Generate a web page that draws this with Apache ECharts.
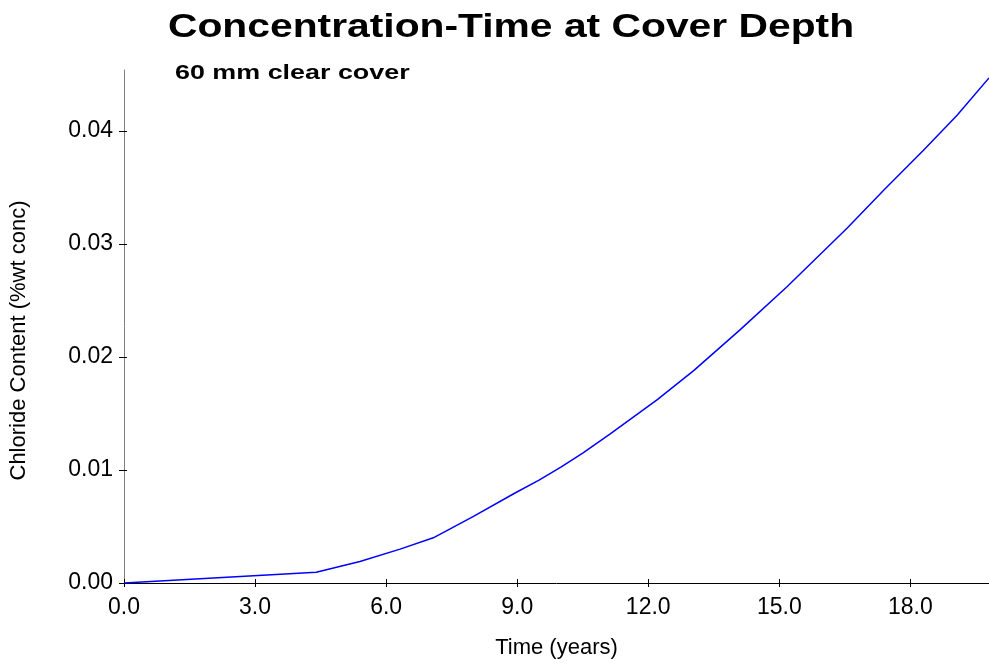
<!DOCTYPE html>
<html><head><meta charset="utf-8">
<script src="https://cdn.jsdelivr.net/npm/echarts@6/dist/echarts.min.js"></script>
<style>html,body{margin:0;padding:0;background:#fff}#c{width:989px;height:665px}</style>
</head><body><div id="c"></div>
<script>
const timeYears = [0, 4.4, 5.4, 6.32, 7.08, 8.0, 8.92, 9.5, 10.0, 10.5, 11.13, 12.2, 13.04, 14.1, 15.17, 16.55, 17.4, 18.3, 19.07, 19.8];
const chloride = [0, 0.00095, 0.0019, 0.003, 0.004, 0.0059, 0.0079, 0.0091, 0.01025, 0.0115, 0.0132, 0.0162, 0.0188, 0.0224, 0.0262, 0.0314, 0.0348, 0.0383, 0.0414, 0.0447];
const xTicks = [0, 3, 6, 9, 12, 15, 18];
const yTicks = [0, 0.01, 0.02, 0.03, 0.04];
const titleText = 'Concentration-Time at Cover Depth';
const subtitleText = '60 mm clear cover';

const chart = echarts.init(document.getElementById('c'));
const F = 'Liberation Sans, Arial, sans-serif';
const xBase = {type: 'value', min: 0, max: 19.8, splitLine: {show: false}};
const yBase = {type: 'value', min: 0, max: 0.0454, splitLine: {show: false}};
chart.setOption({
  animation: false,
  graphic: [
    {type: 'text', x: 511, y: 28, scaleX: 1.2, originX: 0, originY: 0,
     style: {text: titleText, font: 'bold 34px ' + F, fill: '#000', align: 'center', verticalAlign: 'middle'}},
    {type: 'text', x: 175, y: 73, scaleX: 1.28, originX: 0, originY: 0,
     style: {text: subtitleText, font: 'bold 21px ' + F, fill: '#000', align: 'left', verticalAlign: 'middle'}}
  ],
  grid: {left: 124, right: 0, top: 70, bottom: 82, containLabel: false, outerBoundsMode: 'none'},
  xAxis: [
    Object.assign({}, xBase, {
      name: 'Time (years)', nameLocation: 'middle', nameGap: 54,
      nameTextStyle: {fontFamily: F, fontSize: 22, color: '#000'},
      axisLine: {lineStyle: {color: '#000', width: 1}},
      axisTick: {show: true, length: 4, inside: false, customValues: xTicks, lineStyle: {color: '#000'}},
      axisLabel: {customValues: xTicks, fontFamily: F, fontSize: 23, color: '#000', margin: 13,
        formatter: v => v.toFixed(1)}
    }),
    Object.assign({}, xBase, {
      position: 'bottom', offset: 0,
      axisLine: {show: false},
      axisTick: {show: true, length: 4, inside: true, customValues: xTicks, lineStyle: {color: '#000'}},
      axisLabel: {show: false}
    })
  ],
  yAxis: [
    Object.assign({}, yBase, {
      name: 'Chloride Content (%wt conc)', nameLocation: 'middle', nameGap: 94, nameRotate: 90,
      nameTextStyle: {fontFamily: F, fontSize: 22, color: '#000', padding: [0, 28, 0, 0]},
      axisLine: {show: true, lineStyle: {color: '#808080', width: 1}},
      axisTick: {show: true, length: 5, customValues: yTicks, lineStyle: {color: '#000'}},
      axisLabel: {customValues: yTicks, fontFamily: F, fontSize: 23, color: '#000', margin: 11,
        formatter: v => v.toFixed(2)}
    }),
    Object.assign({}, yBase, {
      position: 'left', offset: 0,
      axisLine: {show: false},
      axisTick: {show: true, length: 3, inside: true, customValues: yTicks, lineStyle: {color: '#000'}},
      axisLabel: {show: false}
    })
  ],
  series: [{
    type: 'line', xAxisIndex: 0, yAxisIndex: 0,
    data: timeYears.map((t, i) => [t, chloride[i]]),
    showSymbol: false, smooth: false,
    lineStyle: {color: '#0000ff', width: 1.5}
  }]
});
</script></body></html>
